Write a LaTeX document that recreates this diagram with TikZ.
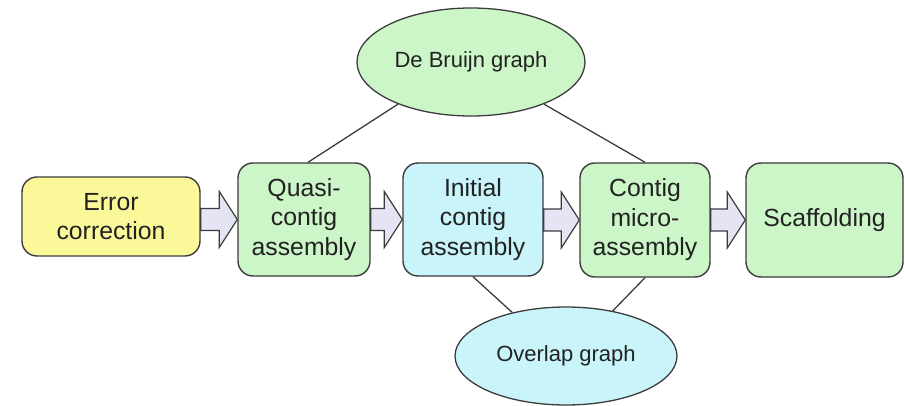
\documentclass[tikz,border=0pt]{standalone}
\usepackage{fontspec}
\setmainfont{Liberation Sans}
\usetikzlibrary{shapes.geometric,calc}
\definecolor{edgegray}{HTML}{3C3C3C}
\definecolor{txt}{HTML}{222222}
\definecolor{yel}{RGB}{250,248,152}
\definecolor{grn}{RGB}{204,245,200}
\definecolor{cya}{RGB}{200,244,250}
\definecolor{arrowfill}{RGB}{228,228,244}
\tikzset{
  stepbox/.style={draw=edgegray, line width=1.4pt, rounded corners=15pt, align=center,
    text=txt, font=\fontsize{24.8}{29.5}\selectfont, inner sep=0pt},
  graphell/.style={draw=edgegray, line width=1.3pt, ellipse, inner sep=0pt, text=txt,
    font=\fontsize{22}{26}\selectfont},
  link/.style={draw=edgegray, line width=1.3pt},
  barrow/.style={draw=edgegray, line width=1.2pt, fill=arrowfill, line join=miter}
}
\newcommand\blockarrow[2]{%
  \draw[barrow] let \p1=(#1.east), \p2=(#2.west) in
    (\x1, \y2+11) -- (\x2-18, \y2+11) -- (\x2-18, \y2+28) -- (\x2, \y2)
    -- (\x2-18, \y2-28) -- (\x2-18, \y2-11) -- (\x1, \y2-11) -- cycle;}
\begin{document}
\begin{tikzpicture}[x=1pt,y=-1pt]
\useasboundingbox (0,0) rectangle (905,406);
% boxes
\node[stepbox, fill=yel, minimum width=178pt, minimum height=79pt] (err) at (111,216.5) {Error\\correction};
\node[stepbox, fill=grn, minimum width=132pt, minimum height=113pt] (quasi) at (304,219.5) {Quasi-\\contig\\assembly};
\node[stepbox, fill=cya, minimum width=140pt, minimum height=113pt] (init) at (473,219.5) {Initial\\contig\\assembly};
\node[stepbox, fill=grn, minimum width=130pt, minimum height=114pt] (micro) at (645,220) {Contig\\micro-\\assembly};
\node[stepbox, fill=grn, minimum width=157pt, minimum height=114pt] (scaf) at (824.5,220) {Scaffolding};
% ellipses
\node[graphell, fill=grn, minimum width=228pt, minimum height=108pt] (db) at (471,62) {De Bruijn graph};
\node[graphell, fill=cya, minimum width=222pt, minimum height=98pt] (ov) at (566,356) {Overlap graph};
% links
\draw[link] (db.210) -- ($(quasi.north)+(4,0)$);
\draw[link] (db.330) -- (micro.north);
\draw[link] (init.south) -- (ov.141);
\draw[link] (micro.south) -- (ov.44);
% block arrows
\blockarrow{err}{quasi}
\blockarrow{quasi}{init}
\blockarrow{init}{micro}
\blockarrow{micro}{scaf}
\end{tikzpicture}
\end{document}
